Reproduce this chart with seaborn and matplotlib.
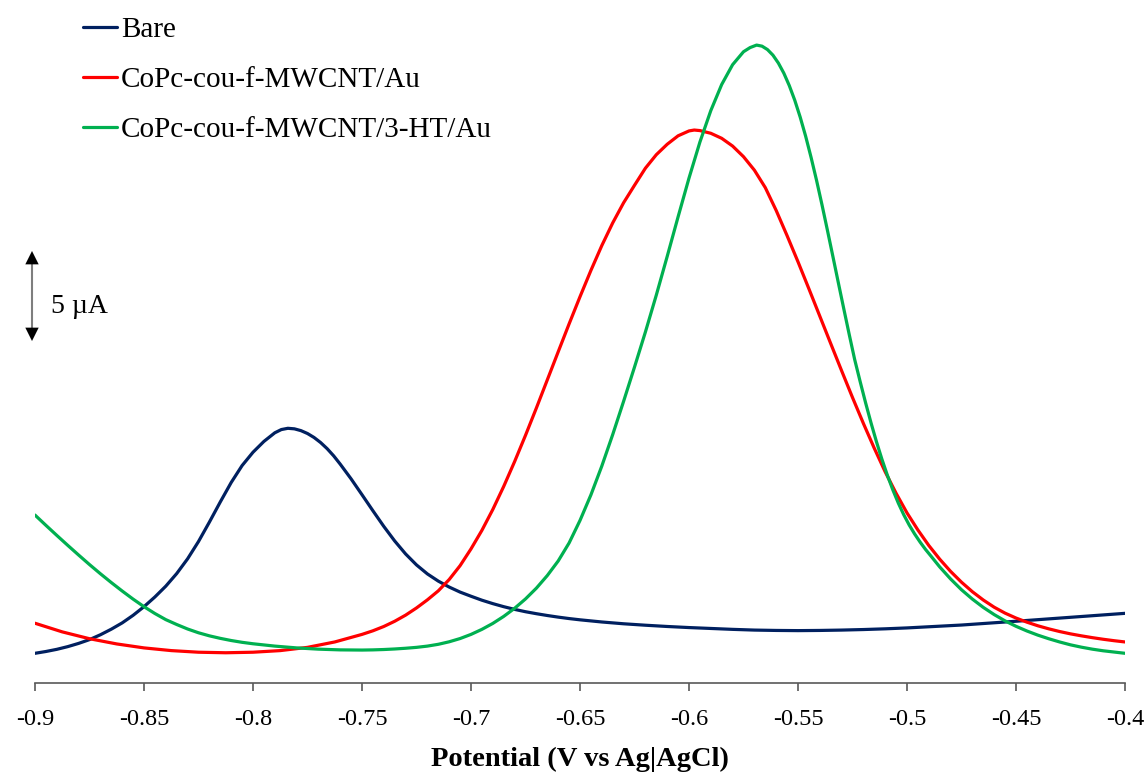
import numpy as np
import pandas as pd
import matplotlib
matplotlib.use("Agg")
import matplotlib.pyplot as plt
import seaborn as sns

# Square-wave voltammograms: potential (V vs Ag|AgCl) and current (µA, arbitrary offset)
bare_potential = [-0.900, -0.895, -0.890, -0.885, -0.880, -0.875, -0.870, -0.865, -0.860,
                  -0.855, -0.850, -0.845, -0.840, -0.835, -0.830, -0.825, -0.820, -0.815,
                  -0.810, -0.805, -0.800, -0.795, -0.790, -0.787, -0.784, -0.781, -0.778,
                  -0.775, -0.772, -0.769, -0.766, -0.763, -0.760, -0.755, -0.750, -0.745,
                  -0.740, -0.735, -0.730, -0.725, -0.720, -0.715, -0.710, -0.705, -0.700,
                  -0.695, -0.690, -0.685, -0.680, -0.675, -0.670, -0.665, -0.660, -0.655,
                  -0.650, -0.640, -0.630, -0.620, -0.610, -0.600, -0.590, -0.580, -0.570,
                  -0.560, -0.550, -0.540, -0.530, -0.520, -0.510, -0.500, -0.475, -0.450,
                  -0.425, -0.400]
bare_current = [1.65, 1.75, 1.87, 2.02, 2.20, 2.41, 2.68, 2.99, 3.34,
                3.76, 4.24, 4.78, 5.38, 6.08, 6.90, 7.86, 8.94, 10.06,
                11.14, 12.08, 12.82, 13.42, 13.90, 14.08, 14.15, 14.12, 14.02,
                13.86, 13.64, 13.36, 13.02, 12.62, 12.16, 11.34, 10.46, 9.57,
                8.70, 7.89, 7.17, 6.56, 6.06, 5.66, 5.33, 5.05, 4.82,
                4.60, 4.41, 4.24, 4.09, 3.96, 3.85, 3.75, 3.66, 3.58,
                3.51, 3.39, 3.29, 3.21, 3.14, 3.08, 3.03, 2.98, 2.94,
                2.92, 2.91, 2.92, 2.94, 2.97, 3.01, 3.06, 3.22, 3.43,
                3.65, 3.87]

red_potential = [-0.9000, -0.8875, -0.8750, -0.8625, -0.8500, -0.8375, -0.8250, -0.8125, -0.8000,
                 -0.7875, -0.7750, -0.7625, -0.7500, -0.745, -0.740, -0.735, -0.730, -0.725,
                 -0.720, -0.715, -0.710, -0.705, -0.700, -0.695, -0.690, -0.685, -0.680,
                 -0.675, -0.670, -0.665, -0.660, -0.655, -0.650, -0.645, -0.640, -0.635,
                 -0.630, -0.625, -0.620, -0.615, -0.610, -0.605, -0.600, -0.5976, -0.595,
                 -0.590, -0.585, -0.580, -0.575, -0.570, -0.565, -0.560, -0.555, -0.550,
                 -0.545, -0.540, -0.535, -0.530, -0.525, -0.520, -0.515, -0.510, -0.505,
                 -0.500, -0.495, -0.490, -0.485, -0.480, -0.475, -0.470, -0.465, -0.460,
                 -0.455, -0.450, -0.445, -0.440, -0.435, -0.430, -0.425, -0.420, -0.415,
                 -0.410, -0.405, -0.400]
red_current = [3.32, 2.84, 2.46, 2.17, 1.95, 1.80, 1.71, 1.68, 1.71,
               1.80, 1.98, 2.28, 2.70, 2.90, 3.14, 3.43, 3.77, 4.17,
               4.62, 5.12, 5.75, 6.52, 7.45, 8.48, 9.64, 10.92, 12.30,
               13.76, 15.28, 16.84, 18.40, 19.95, 21.46, 22.92, 24.30, 25.56,
               26.68, 27.65, 28.60, 29.35, 29.93, 30.40, 30.67, 30.72, 30.69,
               30.54, 30.26, 29.83, 29.24, 28.49, 27.52, 26.25, 24.85, 23.40,
               21.90, 20.38, 18.86, 17.35, 15.86, 14.42, 13.04, 11.73, 10.54,
               9.45, 8.50, 7.64, 6.88, 6.20, 5.60, 5.07, 4.61, 4.21,
               3.88, 3.61, 3.38, 3.18, 3.01, 2.86, 2.73, 2.62, 2.52,
               2.43, 2.35, 2.28]

green_potential = [-0.900, -0.895, -0.890, -0.885, -0.880, -0.875, -0.870, -0.865, -0.860,
                   -0.855, -0.850, -0.845, -0.840, -0.835, -0.830, -0.825, -0.820, -0.815,
                   -0.810, -0.805, -0.800, -0.790, -0.780, -0.770, -0.760, -0.750, -0.745,
                   -0.740, -0.735, -0.730, -0.725, -0.720, -0.715, -0.710, -0.705, -0.700,
                   -0.695, -0.690, -0.685, -0.680, -0.675, -0.670, -0.665, -0.660, -0.655,
                   -0.650, -0.645, -0.640, -0.635, -0.630, -0.625, -0.620, -0.615, -0.610,
                   -0.605, -0.600, -0.595, -0.590, -0.585, -0.580, -0.575, -0.572, -0.569,
                   -0.5665, -0.564, -0.5615, -0.559, -0.5565, -0.554, -0.5515, -0.549, -0.5465,
                   -0.544, -0.5415, -0.539, -0.5365, -0.534, -0.5315, -0.529, -0.5265, -0.524,
                   -0.5215, -0.519, -0.5165, -0.514, -0.5115, -0.509, -0.5065, -0.504, -0.5015,
                   -0.499, -0.4965, -0.494, -0.4915, -0.489, -0.485, -0.480, -0.475, -0.470,
                   -0.465, -0.460, -0.455, -0.450, -0.445, -0.440, -0.435, -0.430, -0.425,
                   -0.420, -0.415, -0.410, -0.405, -0.400]
green_current = [9.33, 8.76, 8.20, 7.65, 7.11, 6.58, 6.07, 5.58, 5.11,
                 4.66, 4.24, 3.86, 3.52, 3.25, 3.00, 2.79, 2.62, 2.48,
                 2.36, 2.26, 2.18, 2.05, 1.95, 1.88, 1.84, 1.83, 1.84,
                 1.86, 1.89, 1.93, 1.98, 2.05, 2.15, 2.29, 2.47, 2.70,
                 2.98, 3.31, 3.70, 4.15, 4.67, 5.27, 5.97, 6.78, 7.78,
                 9.03, 10.45, 12.05, 13.80, 15.65, 17.55, 19.50, 21.55, 23.70,
                 25.90, 28.05, 30.05, 31.80, 33.25, 34.35, 35.07, 35.30, 35.44,
                 35.38, 35.19, 34.88, 34.44, 33.88, 33.19, 32.38, 31.44, 30.38,
                 29.20, 27.93, 26.57, 25.15, 23.70, 22.24, 20.79, 19.36, 17.97,
                 16.75, 15.57, 14.45, 13.40, 12.43, 11.54, 10.73, 10.00, 9.35,
                 8.78, 8.28, 7.83, 7.42, 7.05, 6.45, 5.78, 5.18, 4.66,
                 4.20, 3.80, 3.45, 3.15, 2.89, 2.66, 2.46, 2.28, 2.12,
                 1.99, 1.88, 1.79, 1.72, 1.65]

series_names = ["Bare", "CoPc-cou-f-MWCNT/Au", "CoPc-cou-f-MWCNT/3-HT/Au"]
series_colors = ["#002060", "#FF0000", "#00B050"]
x_ticks = [-0.9, -0.85, -0.8, -0.75, -0.7, -0.65, -0.6, -0.55, -0.5, -0.45, -0.4]
x_tick_labels = ["-0.9", "-0.85", "-0.8", "-0.75", "-0.7", "-0.65", "-0.6",
                 "-0.55", "-0.5", "-0.45", "-0.4"]
scale_bar_current = 5  # µA

frames = []
for name, pot, cur in zip(series_names,
                          [bare_potential, red_potential, green_potential],
                          [bare_current, red_current, green_current]):
    frames.append(pd.DataFrame({"Potential": pot, "Current": cur, "Electrode": name}))
df = pd.concat(frames, ignore_index=True)

sns.set_theme(style="white")
plt.rcParams["font.family"] = ["Liberation Serif", "DejaVu Serif"]
plt.rcParams["text.color"] = "black"
plt.rcParams["axes.unicode_minus"] = False
plt.rcParams["lines.solid_joinstyle"] = "round"
plt.rcParams["lines.solid_capstyle"] = "round"

W, H = 1148, 772
fig = plt.figure(figsize=(W / 100, H / 100), dpi=100)
ax_left, ax_right, ax_bottom, ax_top = 35, 1125, 683, 10
ax = fig.add_axes([ax_left / W, (H - ax_bottom) / H,
                   (ax_right - ax_left) / W, (ax_bottom - ax_top) / H])

sns.lineplot(data=df, x="Potential", y="Current", hue="Electrode",
             hue_order=series_names, palette=dict(zip(series_names, series_colors)),
             estimator=None, sort=False, linewidth=2.3, ax=ax)

px_per_uA = 18.0
ax.set_xlim(-0.9, -0.4)
ax.set_ylim(0, (ax_bottom - ax_top) / px_per_uA)

for side in ["top", "right", "left"]:
    ax.spines[side].set_visible(False)
ax.spines["bottom"].set_color("#595959")
ax.spines["bottom"].set_linewidth(1.2)

ax.set_xticks(x_ticks)
ax.set_xticklabels(x_tick_labels)
ax.set_yticks([])
ax.tick_params(axis="x", direction="out", length=6, width=1.2, color="#595959",
               pad=13, labelsize=17.5, labelcolor="black", bottom=True)
ax.set_ylabel("")
ax.set_xlabel("Potential (V vs Ag|AgCl)", fontsize=20.5, fontweight="bold", color="black")
ax.xaxis.label.set_va("baseline")
ax.xaxis.set_label_coords(0.5, -(766 - ax_bottom) / (ax_bottom - ax_top))

# 5 µA scale bar: grey shaft with black arrow heads
bar_x = -0.9 - 3 / 2180
bar_y0, bar_y1 = 19.0, 19.0 + scale_bar_current
ax.annotate("", xy=(bar_x, bar_y1 - 0.3), xytext=(bar_x, bar_y0 + 0.3),
            arrowprops=dict(arrowstyle="-", color="#808080", lw=1.5,
                            shrinkA=0, shrinkB=0),
            annotation_clip=False)
ax.annotate("", xy=(bar_x, bar_y1), xytext=(bar_x, bar_y0),
            arrowprops=dict(arrowstyle="<|-|>,head_length=0.6,head_width=0.3",
                            facecolor="black", edgecolor="black", lw=0.01,
                            shrinkA=0, shrinkB=0, mutation_scale=16),
            annotation_clip=False)
ax.text(-0.9 + 16 / 2180, 20.55, f"{scale_bar_current} µA", fontsize=20,
        ha="left", va="baseline", color="black")

fs_leg = 21
fs_px = fs_leg * 100 / 72
sns.move_legend(ax, "upper left", bbox_to_anchor=(83 / W, 1 - 17 / H),
                bbox_transform=fig.transFigure, frameon=False, title=None,
                fontsize=fs_leg, handlelength=34 / fs_px,
                handletextpad=4 / fs_px, labelspacing=0.80,
                borderpad=0, borderaxespad=0)
for txt in ax.get_legend().get_texts():
    txt.set_color("black")

fig.savefig("out.png", dpi=100)
